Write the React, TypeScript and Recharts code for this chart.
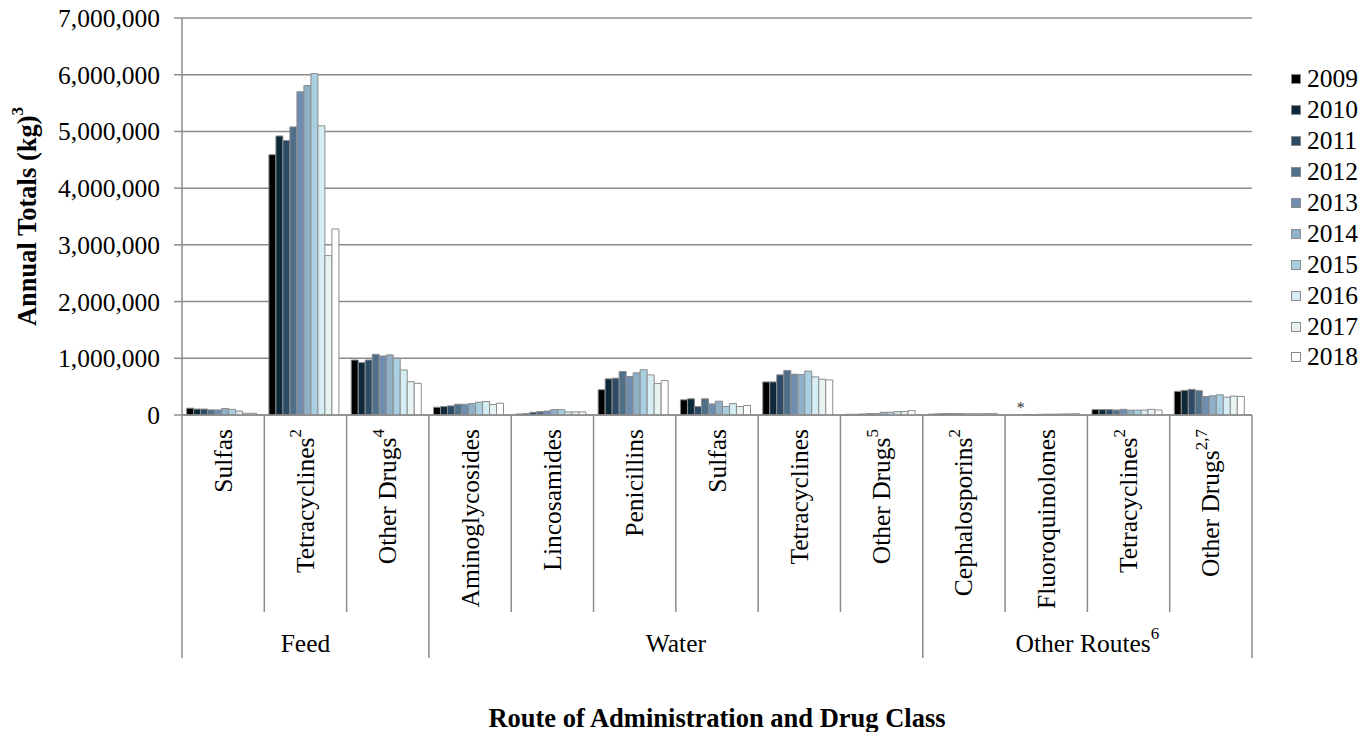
import React from "react";
import {
  BarChart,
  Bar,
  XAxis,
  YAxis,
  CartesianGrid,
  Legend,
  Label,
} from "recharts";

// Drug classes along the x axis, with their footnote marks and route
const categories = [
  "Sulfas",
  "Tetracyclines",
  "Other Drugs",
  "Aminoglycosides",
  "Lincosamides",
  "Penicillins",
  "Sulfas",
  "Tetracyclines",
  "Other Drugs",
  "Cephalosporins",
  "Fluoroquinolones",
  "Tetracyclines",
  "Other Drugs",
];
const footnotes = ["", "2", "4", "", "", "", "", "", "5", "2", "", "2", "2,7"];
const routes = [
  "Feed", "Feed", "Feed",
  "Water", "Water", "Water", "Water", "Water", "Water",
  "Other Routes", "Other Routes", "Other Routes", "Other Routes",
];
const routeFootnotes: Record<string, string> = { "Other Routes": "6" };

const years = ["2009", "2010", "2011", "2012", "2013", "2014", "2015", "2016", "2017", "2018"];
const colors = [
  "#000000", "#0e2a3a", "#2d4a66", "#506f88", "#6f8db1",
  "#8fb0c6", "#a9d0e2", "#d6edf4", "#e8f4f4", "#ffffff",
];
const yTicks = [0, 1000000, 2000000, 3000000, 4000000, 5000000, 6000000, 7000000];

// annual totals (kg), one value per category
const v2009 = [120000, 4590000, 970000, 137000, 18000, 446000, 268000, 583000, 12000, 15000, 0, 95000, 417000];
const v2010 = [105000, 4920000, 925000, 149000, 24000, 637000, 286000, 583000, 12000, 20000, 0, 95000, 435000];
const v2011 = [105000, 4840000, 970000, 161000, 48000, 649000, 149000, 708000, 18000, 25000, 5000, 95000, 452000];
const v2012 = [90000, 5080000, 1070000, 190000, 60000, 768000, 286000, 786000, 24000, 25000, 5000, 88000, 429000];
const v2013 = [90000, 5700000, 1040000, 190000, 71000, 679000, 196000, 720000, 24000, 25000, 12000, 100000, 327000];
const v2014 = [115000, 5810000, 1060000, 202000, 95000, 744000, 244000, 714000, 48000, 22000, 15000, 85000, 339000];
const v2015 = [100000, 6020000, 1000000, 226000, 95000, 798000, 149000, 774000, 48000, 22000, 15000, 85000, 357000];
const v2016 = [70000, 5100000, 794000, 238000, 54000, 708000, 202000, 673000, 60000, 22000, 18000, 88000, 315000];
const v2017 = [30000, 2810000, 587000, 185000, 54000, 554000, 149000, 631000, 60000, 25000, 20000, 100000, 333000];
const v2018 = [30000, 3280000, 558000, 208000, 54000, 607000, 167000, 619000, 77000, 25000, 22000, 88000, 327000];
const series = [v2009, v2010, v2011, v2012, v2013, v2014, v2015, v2016, v2017, v2018];

// fluoroquinolones 2010 is marked with an asterisk instead of a bar
const asteriskYear = "2010";
const asteriskIndex = 10;

const data = categories.map((name, i) => {
  const row: Record<string, any> = { key: `c${i}`, name };
  years.forEach((y, j) => {
    row[y] = series[j][i];
  });
  return row;
});

const GRID = "#8c8c8c";
const FONT = "'Liberation Serif', 'Times New Roman', serif";
const FS = 25.5;
const TITLE_FS = 26.5;
const GAP = 0.056;

function CategoryTick(props: any) {
  const { x, y, payload } = props;
  const i = payload.index;
  const half = payload.offset ?? 41;
  const left = x - half;
  const route = routes[i];
  const firstOfRoute = i === 0 || routes[i - 1] !== route;
  const count = routes.filter((r) => r === route).length;
  const note = footnotes[i];
  const routeNote = routeFootnotes[route];

  // position of the asterisk over the year's (empty) bar slot
  let star = null;
  if (i === asteriskIndex) {
    const gap = 2 * half * GAP;
    const bw = (2 * half - 2 * gap) / years.length;
    const k = years.indexOf(asteriskYear);
    star = (
      <text
        x={left + gap + bw * (k + 0.5)}
        y={y - 8}
        textAnchor="middle"
        dominantBaseline="central"
        fontSize={16}
        fontFamily={FONT}
        fill="#333"
      >
        *
      </text>
    );
  }

  return (
    <g>
      <line
        x1={left}
        x2={left}
        y1={y}
        y2={y + (firstOfRoute ? 243 : 197)}
        stroke={GRID}
        strokeWidth={1.5}
      />
      {i === categories.length - 1 && (
        <line x1={x + half} x2={x + half} y1={y} y2={y + 243} stroke={GRID} strokeWidth={1.5} />
      )}
      {star}
      <text
        transform={`translate(${x},${y + 14}) rotate(-90)`}
        textAnchor="end"
        dominantBaseline="central"
        fontSize={FS}
        fontFamily={FONT}
        fill="#000"
      >
        {categories[i]}
        {note && (
          <tspan fontSize={17} dy={-10}>
            {note}
          </tspan>
        )}
      </text>
      {firstOfRoute && (
        <text
          x={left + count * half}
          y={y + 228}
          textAnchor="middle"
          dominantBaseline="central"
          fontSize={FS}
          fontFamily={FONT}
          fill="#000"
        >
          {route}
          {routeNote && (
            <tspan fontSize={17} dy={-10}>
              {routeNote}
            </tspan>
          )}
        </text>
      )}
    </g>
  );
}

function YearLegend({ payload }: any) {
  return (
    <div style={{ fontFamily: FONT, fontSize: FS, color: "#000" }}>
      {(payload ?? []).map((p: any) => (
        <div key={p.value} style={{ display: "flex", alignItems: "center", height: 30.9 }}>
          <span
            style={{
              display: "inline-block",
              width: 8,
              height: 8,
              background: p.color,
              border: `1px solid ${GRID}`,
              marginRight: 6,
            }}
          />
          <span>{p.value}</span>
        </div>
      ))}
    </div>
  );
}

export default function App() {
  return (
    <div style={{ position: "absolute", left: 0, top: 0, background: "#fff" }}>
      <BarChart
        width={1371}
        height={732}
        data={data}
        margin={{ top: 18, right: 39, left: 0, bottom: 0 }}
        barCategoryGap={`${GAP * 100}%`}
        barGap={0}
      >
        <CartesianGrid vertical={false} stroke={GRID} strokeWidth={1.5} />
        <XAxis
          dataKey="key"
          interval={0}
          height={317}
          tickSize={0}
          tickMargin={0}
          tickLine={false}
          axisLine={{ stroke: GRID, strokeWidth: 1.5 }}
          tick={<CategoryTick />}
        >
          <Label
            content={(p: any) => {
              const vb = p.viewBox;
              return (
                <text
                  x={vb.x + vb.width / 2}
                  y={vb.y + vb.height - 14}
                  textAnchor="middle"
                  dominantBaseline="central"
                  fontSize={TITLE_FS}
                  fontWeight="bold"
                  fontFamily={FONT}
                  fill="#000"
                >
                  Route of Administration and Drug Class
                </text>
              );
            }}
          />
        </XAxis>
        <YAxis
          width={182}
          domain={[0, 7000000]}
          ticks={yTicks}
          interval={0}
          tickSize={8}
          tickMargin={14}
          tickFormatter={(v: number) => v.toLocaleString("en-US")}
          tick={{ fontSize: FS, fill: "#000", fontFamily: FONT }}
          axisLine={{ stroke: GRID, strokeWidth: 1.5 }}
          tickLine={{ stroke: GRID, strokeWidth: 1.5 }}
        >
          <Label
            content={(p: any) => {
              const vb = p.viewBox;
              const cy = vb.y + vb.height / 2;
              return (
                <text
                  transform={`translate(27,${cy}) rotate(-90)`}
                  textAnchor="middle"
                  dominantBaseline="central"
                  fontSize={TITLE_FS}
                  fontWeight="bold"
                  fontFamily={FONT}
                  fill="#000"
                >
                  Annual Totals (kg)
                  <tspan fontSize={17} dy={-10}>
                    3
                  </tspan>
                </text>
              );
            }}
          />
        </YAxis>
        <Legend
          layout="vertical"
          align="right"
          verticalAlign="top"
          content={<YearLegend />}
          wrapperStyle={{ top: 64, left: 1291, width: 80 }}
        />
        {years.map((y, j) => (
          <Bar
            key={y}
            dataKey={y}
            fill={colors[j]}
            stroke={GRID}
            strokeWidth={1}
            isAnimationActive={false}
          />
        ))}
      </BarChart>
    </div>
  );
}
